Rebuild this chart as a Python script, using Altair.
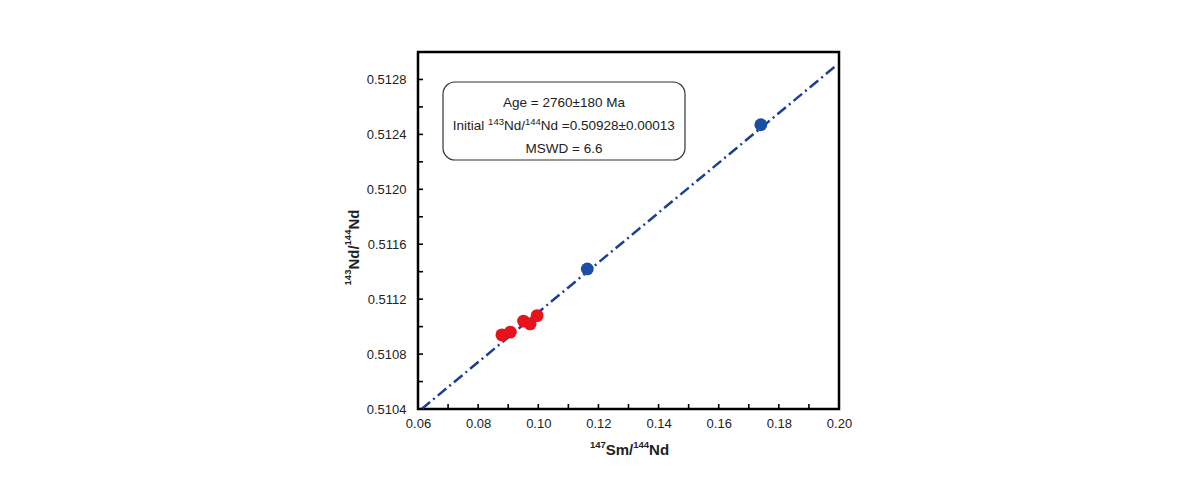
import altair as alt
import pandas as pd

# data
red_x = [0.0879, 0.0907, 0.0951, 0.0973, 0.0996]
red_y = [0.51094, 0.51096, 0.51104, 0.51102, 0.51108]
blue_x = [0.1163, 0.1740]
blue_y = [0.51142, 0.51247]
line_x = [0.0612, 0.1990]
line_y = [0.51040, 0.51290]

x_ticks = [0.06, 0.07, 0.08, 0.09, 0.10, 0.11, 0.12, 0.13, 0.14, 0.15, 0.16, 0.17, 0.18, 0.19, 0.20]
x_labels = [0.06, 0.08, 0.10, 0.12, 0.14, 0.16, 0.18, 0.20]
y_ticks = [0.5104, 0.5106, 0.5108, 0.5110, 0.5112, 0.5114, 0.5116, 0.5118, 0.5120,
           0.5122, 0.5124, 0.5126, 0.5128]
y_labels = [0.5104, 0.5108, 0.5112, 0.5116, 0.5120, 0.5124, 0.5128]

# text pieces: (text, is_superscript)
box_line1 = "Age = 2760±180  Ma"
box_line2 = [("Initial ", False), ("143", True), ("Nd/", False), ("144", True),
             ("Nd =0.50928±0.00013", False)]
box_line3 = "MSWD = 6.6"
x_title = [("147", True), ("Sm/", False), ("144", True), ("Nd", False)]
y_title = [("143", True), ("Nd/", False), ("144", True), ("Nd", False)]

FONT = "Liberation Sans"
W, H = 421, 357

# approximate Arial advance widths (em) for piecing text together
REG = {"I": .278, "n": .556, "i": .222, "t": .278, "a": .556, "l": .222, " ": .278,
       "N": .722, "d": .556, "/": .278, "=": .584, ".": .278, "±": .584}
BOLD = {"S": .667, "m": .889, "/": .278, "N": .722, "d": .611}


def width(s, size, bold=False):
    tbl = BOLD if bold else REG
    return sum(tbl.get(c, .556) for c in s) * size


pts = pd.DataFrame({
    "x": red_x + blue_x,
    "y": red_y + blue_y,
    "grp": ["red"] * len(red_x) + ["blue"] * len(blue_x),
})
line_df = pd.DataFrame({"x": line_x, "y": line_y})

xscale = alt.Scale(domain=[0.06, 0.20], nice=False, zero=False)
yscale = alt.Scale(domain=[0.5104, 0.5130], nice=False, zero=False)

xaxis = alt.Axis(
    values=x_labels, grid=False, domain=False, ticks=False, labelPadding=8,
    format=".2f", labelFlush=False, labelOverlap=False,
    labelFont=FONT, labelFontSize=13, labelColor="#222", title=None,
)
yaxis = alt.Axis(
    values=y_labels, grid=False, domain=False, ticks=False, labelPadding=12,
    format=".4f", labelFlush=False, labelOverlap=False,
    labelFont=FONT, labelFontSize=13, labelColor="#222", title=None,
)

line = alt.Chart(line_df).mark_line(
    color="#1c3f94", strokeWidth=2.5, strokeDash=[11, 4, 2, 4]
).encode(
    x=alt.X("x:Q", scale=xscale, axis=xaxis),
    y=alt.Y("y:Q", scale=yscale, axis=yaxis),
)

points = alt.Chart(pts).mark_circle(size=165, opacity=1).encode(
    x=alt.X("x:Q", scale=xscale),
    y=alt.Y("y:Q", scale=yscale),
    color=alt.Color("grp:N", scale=alt.Scale(domain=["red", "blue"], range=["#e8121c", "#1c4ea4"]), legend=None),
)

# inward tick marks
xt = alt.Chart(pd.DataFrame({"t": x_ticks})).mark_rule(color="black", strokeWidth=1.6).encode(
    x=alt.X("t:Q", scale=xscale), y=alt.value(H), y2=alt.value(H - 5)
)
yt = alt.Chart(pd.DataFrame({"t": y_ticks})).mark_rule(color="black", strokeWidth=1.6).encode(
    y=alt.Y("t:Q", scale=yscale), x=alt.value(0), x2=alt.value(5)
)

box = alt.Chart(pd.DataFrame({"a": [0]})).mark_rect(
    fill="white", stroke="#333", strokeWidth=1.2, cornerRadius=12
).encode(x=alt.value(25), x2=alt.value(267), y=alt.value(30), y2=alt.value(108))


def txt(s, x, y, size, bold=False, angle=0, align="left"):
    kw = dict(font=FONT, fontSize=size, color="#222", align=align, baseline="alphabetic",
              fontWeight="bold" if bold else "normal")
    if angle:
        kw["angle"] = angle
    return alt.Chart(pd.DataFrame({"t": [s]})).mark_text(**kw).encode(
        text="t:N", x=alt.value(x), y=alt.value(y))


layers = []
# box lines
layers.append(txt(box_line1, 146, 55, 13.5, align="center"))
layers.append(txt(box_line3, 146, 100.5, 13.5, align="center"))
tot = sum(width(s, 9.5 if sup else 13.5) for s, sup in box_line2)
cx = 146 - tot / 2
for s, sup in box_line2:
    size = 9.5 if sup else 13.5
    layers.append(txt(s, cx, 72.5 if sup else 78, size))
    cx += width(s, size)

# x title
tot = sum(width(s, 9.5 if sup else 15, True) for s, sup in x_title)
cx = W / 2 + 1 - tot / 2
for s, sup in x_title:
    size = 9.5 if sup else 15
    layers.append(txt(s, cx, H + 39 if sup else H + 46, size, bold=True))
    cx += width(s, size, True)

# y title (rotated, reading upward)
tot = sum(width(s, 9.5 if sup else 15, True) for s, sup in y_title)
cy = H / 2 + 17 + tot / 2
for s, sup in y_title:
    size = 9.5 if sup else 15
    layers.append(txt(s, -67 if sup else -59.5, cy, size, bold=True, angle=270))
    cy -= width(s, size, True)

chart = alt.layer(line, xt, yt, points, box, *layers).properties(
    width=W, height=H,
    background="white",
    autosize=alt.AutoSizeParams(type="none"),
    padding={"left": 410, "top": 44, "right": 300, "bottom": 60},
).configure_view(
    stroke="black", strokeWidth=2.5
)

chart.save("out.html", embed_options={"renderer": "svg", "actions": False})
